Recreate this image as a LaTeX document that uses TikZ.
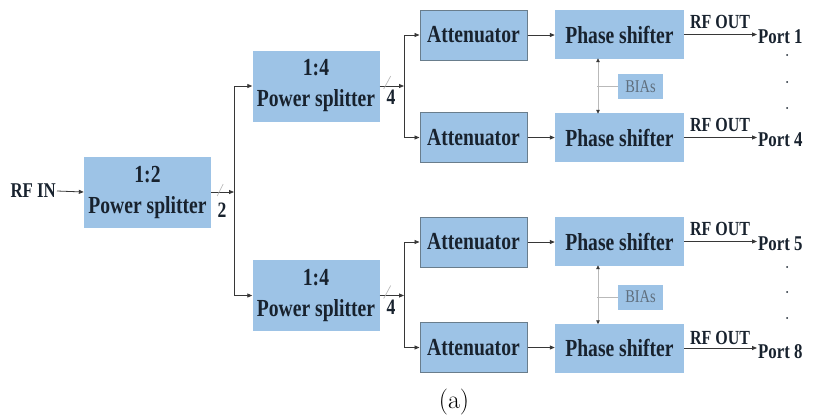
\documentclass[tikz,border=0pt]{standalone}
\usepackage{fontspec}
\newfontfamily\tms[FakeStretch=0.8]{Liberation Serif}
\usetikzlibrary{arrows.meta}
\definecolor{boxfill}{RGB}{157,195,230}
\definecolor{attborder}{RGB}{105,125,140}
\definecolor{txt}{RGB}{24,34,46}
\definecolor{ln}{RGB}{55,55,55}
\definecolor{biasln}{RGB}{185,185,185}
\definecolor{biastxt}{RGB}{95,110,125}
\tikzset{
  blk/.style={fill=boxfill, draw=none, inner sep=0pt, text=txt, align=center,
    font=\tms\bfseries\fontsize{24.5}{31}\selectfont},
  splitbox/.style={blk, minimum width=127pt, minimum height=71pt},
  attbox/.style={blk, draw=attborder, line width=1pt, minimum width=107pt, minimum height=50pt},
  psbox/.style={blk, minimum width=129pt, minimum height=49pt},
  biasbox/.style={fill=boxfill, inner sep=0pt, minimum width=45pt, minimum height=25pt,
    text=biastxt, font=\tms\fontsize{18}{20}\selectfont},
  lbl/.style={inner sep=1pt, text=txt, font=\tms\bfseries\fontsize{21}{23}\selectfont},
  rfout/.style={inner sep=0pt, text=txt, font=\tms\bfseries\fontsize{20}{22}\selectfont},
  numlbl/.style={inner sep=0pt, text=txt, font=\tms\bfseries\fontsize{22}{24}\selectfont},
  wire/.style={draw=ln, line width=0.8pt},
  arr/.style={wire, -{Triangle[length=5pt,width=4pt]}},
  biasl/.style={draw=biasln, line width=0.8pt},
  biasarr/.style={biasl, {Triangle[length=4pt,width=3.5pt,color=ln]}-{Triangle[length=4pt,width=3.5pt,color=ln]}},
  slash/.style={draw=biasln, line width=0.7pt},
  dotn/.style={circle, fill=txt, inner sep=0pt, minimum size=2pt}
}
\begin{document}
\begin{tikzpicture}[x=1pt,y=-1pt]
\useasboundingbox (0,0) rectangle (814,416);
% input
\node[lbl, anchor=east] (rfin) at (57,191) {RF IN};
\node[splitbox] (S12) at (147.5,192) {1:2\\Power splitter};
\node[numlbl] (n2) at (222,210) {2};
\coordinate (j1) at (234,192);
% 1:4 splitters
\node[splitbox] (S14a) at (316,86) {1:4\\Power splitter};
\node[splitbox] (S14b) at (316,295.5) {1:4\\Power splitter};
\node[numlbl] (n4a) at (391,97) {4};
\node[numlbl] (n4b) at (391,307) {4};
\coordinate (j2) at (404,86);
\coordinate (j3) at (404,295.5);
% attenuators
\node[attbox] (A1) at (473.5,35) {Attenuator};
\node[attbox] (A2) at (473.5,137.5) {Attenuator};
\node[attbox] (A3) at (473.5,242) {Attenuator};
\node[attbox] (A4) at (473.5,347.5) {Attenuator};
% phase shifters
\node[psbox] (P1) at (619.5,34.5) {Phase shifter};
\node[psbox] (P2) at (619.5,137.5) {Phase shifter};
\node[psbox] (P3) at (619.5,241.5) {Phase shifter};
\node[psbox] (P4) at (619.5,348) {Phase shifter};
% bias
\node[biasbox] (B1) at (640.5,86.5) {BIAs};
\node[biasbox] (B2) at (640.5,297) {BIAs};
% ports
\node[lbl, anchor=west] (O1) at (757,37) {Port 1};
\node[lbl, anchor=west] (O4) at (757,140) {Port 4};
\node[lbl, anchor=west] (O5) at (757,244) {Port 5};
\node[lbl, anchor=west] (O8) at (757,352) {Port 8};
\node[rfout] (R1) at (720,22) {RF OUT};
\node[rfout] (R2) at (720,125) {RF OUT};
\node[rfout] (R3) at (720,229) {RF OUT};
\node[rfout] (R4) at (720,338) {RF OUT};
% dots
\node[dotn] (d1) at (787,55) {};
\node[dotn] (d2) at (787,82) {};
\node[dotn] (d3) at (787,108) {};
\node[dotn] (d4) at (787,267) {};
\node[dotn] (d5) at (787,292) {};
\node[dotn] (d6) at (787,318) {};
% caption
\node[inner sep=0pt, font=\fontsize{26}{28}\selectfont] (cap) at (454,402) {(a)};
% connectors
\draw[arr] (rfin.east) -- (S12.west);
\draw[arr] (S12.east) -- (j1);
\draw[slash] ([xshift=6pt,yshift=-4pt]S12.east) -- ([xshift=12pt,yshift=8pt]S12.east);
\draw[arr] (j1) |- (S14a.west);
\draw[arr] (j1) |- (S14b.west);
\draw[arr] (S14a.east) -- (j2);
\draw[arr] (S14b.east) -- (j3);
\draw[slash] ([xshift=4pt,yshift=-3pt]S14a.east) -- ([xshift=11pt,yshift=10pt]S14a.east);
\draw[slash] ([xshift=4pt,yshift=-3pt]S14b.east) -- ([xshift=11pt,yshift=10pt]S14b.east);
\draw[arr] (j2) |- (A1.west);
\draw[arr] (j2) |- (A2.west);
\draw[arr] (j3) |- (A3.west);
\draw[arr] (j3) |- (A4.west);
\draw[arr] (A1.east) -- (A1.east -| P1.west);
\draw[arr] (A2.east) -- (A2.east -| P2.west);
\draw[arr] (A3.east) -- (A3.east -| P3.west);
\draw[arr] (A4.east) -- (A4.east -| P4.west);
\draw[arr] (P1.east) -- (P1.east -| O1.west);
\draw[arr] (P2.east) -- (P2.east -| O4.west);
\draw[arr] (P3.east) -- (P3.east -| O5.west);
\draw[arr] (P4.east) -- (P4.east -| O8.west);
\draw[biasarr] ([xshift=-21.5pt,yshift=1pt]P1.south) -- ([xshift=-21.5pt,yshift=-1pt]P2.north);
\draw[biasarr] ([xshift=-21.5pt,yshift=1pt]P3.south) -- ([xshift=-21.5pt,yshift=-1pt]P4.north);
\draw[biasl] (B1.west) -- ++(-21pt,0);
\draw[biasl] (B2.west) -- ++(-21pt,0);
\end{tikzpicture}
\end{document}
